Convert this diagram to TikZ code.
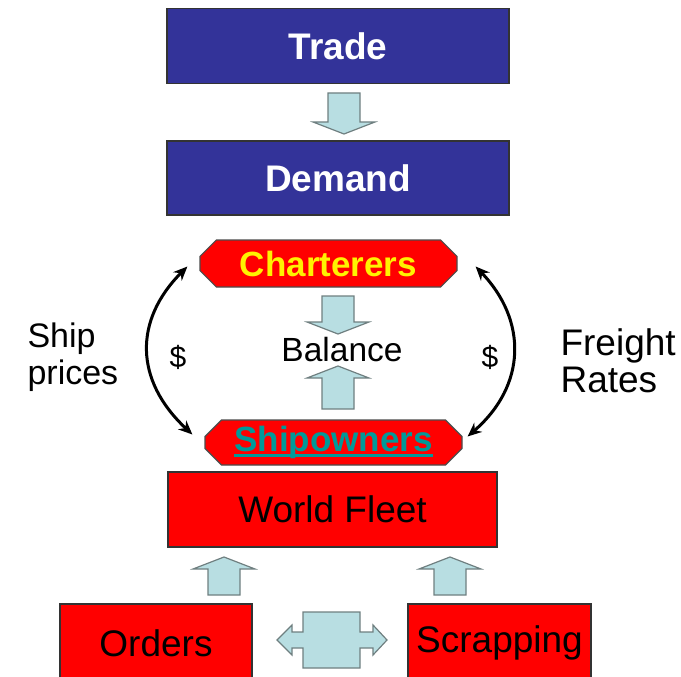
\documentclass[tikz,border=0pt]{standalone}
\usepackage{fontspec}
\setmainfont{Liberation Sans}
\usetikzlibrary{shapes.misc,arrows.meta}
\definecolor{navy}{HTML}{333399}
\definecolor{arrowfill}{HTML}{B8DEE2}
\definecolor{arrowedge}{HTML}{6F7F80}
\definecolor{linkteal}{HTML}{009999}
% thick underline in the current text colour
\newcommand{\thickul}[1]{\setbox0=\hbox{#1}\rlap{\rule[-5pt]{\wd0}{2.5pt}}\box0}
\begin{document}
\begin{tikzpicture}[x=1pt,y=-1pt,
  box/.style={draw=black!80, line width=1.2pt, rectangle, inner sep=0pt},
  bluebox/.style={box, fill=navy, text=white, font=\fontsize{37}{44}\selectfont\bfseries, minimum width=342pt, minimum height=75pt},
  redbox/.style={box, fill=red, text=black, font=\fontsize{37}{44}\selectfont},
  octo/.style={chamfered rectangle, chamfered rectangle xsep=13pt, draw=black!70, line width=1.2pt, fill=red, font=\fontsize{35}{42}\selectfont\bfseries, inner sep=0pt},
  blk/.style={fill=arrowfill, draw=arrowedge, line width=1.2pt, line join=miter},
  swing/.style={line width=3pt, {Stealth[length=14pt,width=12pt]}-{Stealth[length=14pt,width=12pt]}},
  side/.style={align=left, anchor=west},
  pics/downblk/.style={code={\draw[blk] (-16,0) -- (16,0) -- (16,#1-12) -- (31,#1-12) -- (0,#1) -- (-31,#1-12) -- (-16,#1-12) -- cycle;}},
  pics/upblk/.style={code={\draw[blk] (0,0) -- (31,12) -- (16,12) -- (16,#1) -- (-16,#1) -- (-16,12) -- (-31,12) -- cycle;}},
]
\clip (0,0) rectangle (681,677);

% boxes
\node[bluebox] (trade) at (338,46) {Trade};
\node[bluebox, minimum height=74pt] (demand) at (338,178) {Demand};
\node[octo, minimum width=257pt, minimum height=47pt, text=yellow] (ch) at (328.5,263.5) {Charterers};
\node[octo, minimum width=257pt, minimum height=45pt, text=linkteal] (sh) at (333.5,442.5) {\thickul{Shipowners}};
\node[redbox, minimum width=329pt, minimum height=75pt] (fleet) at (332.5,509.5) {World Fleet};
\node[redbox, minimum width=192pt, minimum height=78pt] (orders) at (156,643) {Orders};
\node[redbox, minimum width=183pt, minimum height=78pt] (scrap) at (499.5,643) {Scrapping};

% labels
\node[font=\fontsize{33.5}{40}\selectfont] (bal) at (342,350) {Balance};
\node[side, font=\fontsize{34}{37}\selectfont] (ship) at (24,357) {Ship\\prices};
\node[side, font=\fontsize{37}{37}\selectfont] (freight) at (557,361) {Freight\\Rates};
\node[font=\fontsize{30}{36}\selectfont] (dl) at (178,357) {\$};
\node[font=\fontsize{30}{36}\selectfont] (dr) at (490,357) {\$};

% block arrows
\pic at (344,93) {downblk=41};
\pic at (338,296) {downblk=38};
\pic at (338,366) {upblk=43};
\pic at (224,557) {upblk=38};
\pic at (450,557) {upblk=38};
\draw[blk] (277,640) -- (292,625) -- (292,632) -- (303,632) -- (303,612) -- (360,612)
  -- (360,632) -- (373,632) -- (373,625) -- (387,640) -- (373,655) -- (373,648)
  -- (360,648) -- (360,668) -- (303,668) -- (303,648) -- (292,648) -- (292,655) -- cycle;

% price swings between charterers and shipowners
\draw[swing] ([shift={(-12,3)}]ch.west) .. controls (134,320) and (134,380) .. ([shift={(-12,-8)}]sh.west);
\draw[swing] ([shift={(18,3)}]ch.east) .. controls (527,320) and (527,385) .. ([shift={(5,-6)}]sh.east);
\end{tikzpicture}
\end{document}
